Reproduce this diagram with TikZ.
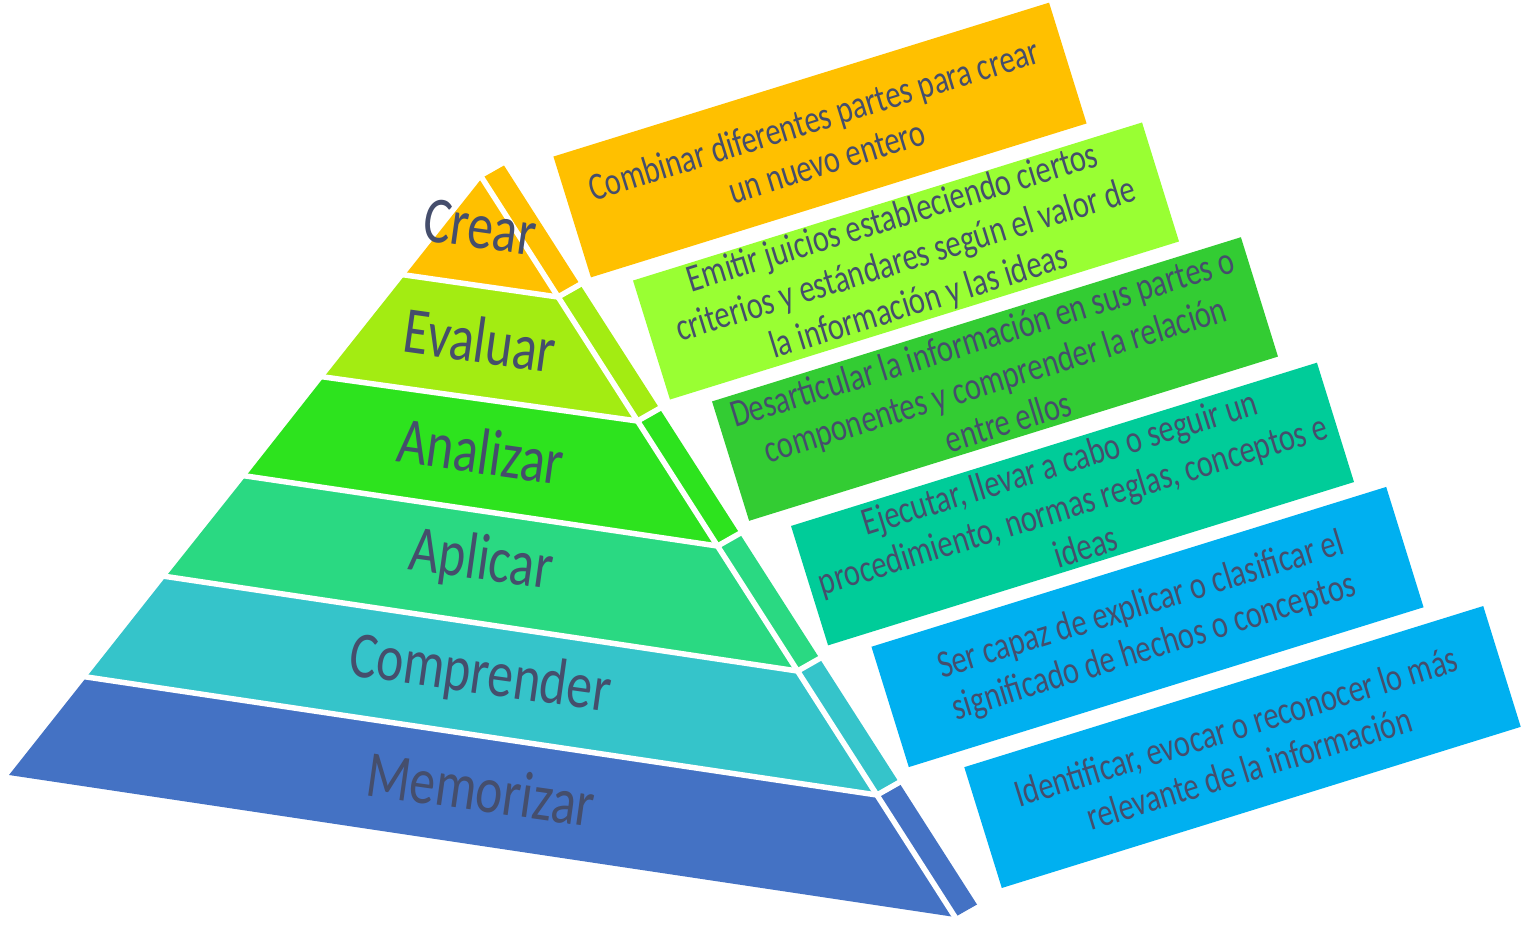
\documentclass[tikz,border=0pt]{standalone}
\usepackage{fontspec}
\newfontfamily\hand{Carlito}[FakeStretch=0.78]
\usetikzlibrary{calc}
\definecolor{txt}{HTML}{454E6C}
\definecolor{cCrear}{HTML}{FFC000}
\definecolor{cEval}{HTML}{A3EC12}
\definecolor{cAnal}{HTML}{2DE31E}
\definecolor{cApli}{HTML}{2AD982}
\definecolor{cComp}{HTML}{35C4CA}
\definecolor{cMemo}{HTML}{4472C4}
\definecolor{bEval}{HTML}{99FF33}
\definecolor{bAnal}{HTML}{33CC33}
\definecolor{bApli}{HTML}{00CC99}
\definecolor{bBlue}{HTML}{00B0F0}
\begin{document}
\begin{tikzpicture}[x=1pt,y=-1pt,
  gap/.style={white,line width=5.5pt,line cap=butt,line join=miter,shorten <=-4pt,shorten >=-4pt},
  lbl/.style={text=txt,font=\hand\fontsize{66}{72}\selectfont,rotate=-8,inner sep=0pt},
  box/.style={rotate=17.25,inner sep=0pt,text=txt,align=center,font=\hand\fontsize{39}{44}\selectfont}]
\fill[white] (0,0) rectangle (1522,924);
\useasboundingbox (0,0) rectangle (1522,924);
% pyramid front face points
\coordinate (A) at (482,178);
\coordinate (L1) at (405,275);   \coordinate (R1) at (558,297);
\coordinate (L2) at (324,377);   \coordinate (R2) at (637.5,421);
\coordinate (L3) at (246,476);   \coordinate (R3) at (717.6,546);
\coordinate (L4) at (166,576.5); \coordinate (R4) at (797.6,671);
\coordinate (L5) at (86.6,677);  \coordinate (R5) at (877,795);
\coordinate (L6) at (9,775);     \coordinate (R6) at (955,917);
% side strip points
\foreach \i/\p in {0/A,1/R1,2/R2,3/R3,4/R4,5/R5,6/R6}
  \coordinate (S\i) at ($(\p)+(22,-12.5)$);
% front bands
\fill[cCrear] (A) -- (R1) -- (L1) -- cycle;
\fill[cEval] (L1) -- (R1) -- (R2) -- (L2) -- cycle;
\fill[cAnal] (L2) -- (R2) -- (R3) -- (L3) -- cycle;
\fill[cApli] (L3) -- (R3) -- (R4) -- (L4) -- cycle;
\fill[cComp] (L4) -- (R4) -- (R5) -- (L5) -- cycle;
\fill[cMemo] (L5) -- (R5) -- (R6) -- (L6) -- cycle;
% side bands
\fill[cCrear] (A) -- (S0) -- (S1) -- (R1) -- cycle;
\fill[cEval] (R1) -- (S1) -- (S2) -- (R2) -- cycle;
\fill[cAnal] (R2) -- (S2) -- (S3) -- (R3) -- cycle;
\fill[cApli] (R3) -- (S3) -- (S4) -- (R4) -- cycle;
\fill[cComp] (R4) -- (S4) -- (S5) -- (R5) -- cycle;
\fill[cMemo] (R5) -- (S5) -- (S6) -- (R6) -- cycle;
% white gaps
\draw[gap] (A) -- (R6);
\foreach \i in {1,...,5} \draw[gap] (L\i) -- (R\i) -- (S\i);
% level labels
\node[lbl] (lCrear) at (480,227) {Crear};
\node[lbl] (lEval) at (480,340) {Evaluar};
\node[lbl] (lAnal) at (481,451) {Analizar};
\node[lbl] (lApli) at (481,562) {Aplicar};
\node[lbl] (lComp) at (480,676) {Comprender};
\node[lbl] (lMemo) at (481,789) {Memorizar};
% description boxes
\node[box,fill=cCrear,minimum width=519pt,minimum height=126.5pt] (dCrear) at (820,140)
  {Combinar diferentes partes para crear\\un nuevo entero};
\node[box,fill=bEval,minimum width=533pt,minimum height=124.6pt] (dEval) at (906,261)
  {Emitir juicios estableciendo ciertos\\criterios y estándares según el valor de\\la información y las ideas};
\node[box,fill=bAnal,minimum width=553.8pt,minimum height=125pt] (dAnal) at (995,379)
  {Desarticular la información en sus partes o\\componentes y comprender la relación\\entre ellos};
\node[box,fill=bApli,minimum width=550.7pt,minimum height=125pt] (dApli) at (1072.5,504)
  {Ejecutar, llevar a cabo o seguir un\\procedimiento, normas reglas, conceptos e\\ideas};
\node[box,fill=bBlue,minimum width=539pt,minimum height=126pt] (dComp) at (1147.5,627)
  {Ser capaz de explicar o clasificar el\\significado de hechos o conceptos};
\node[box,fill=bBlue,minimum width=543.4pt,minimum height=126.5pt] (dMemo) at (1242.5,747)
  {Identificar, evocar o reconocer lo más\\relevante de la información};
\end{tikzpicture}
\end{document}
